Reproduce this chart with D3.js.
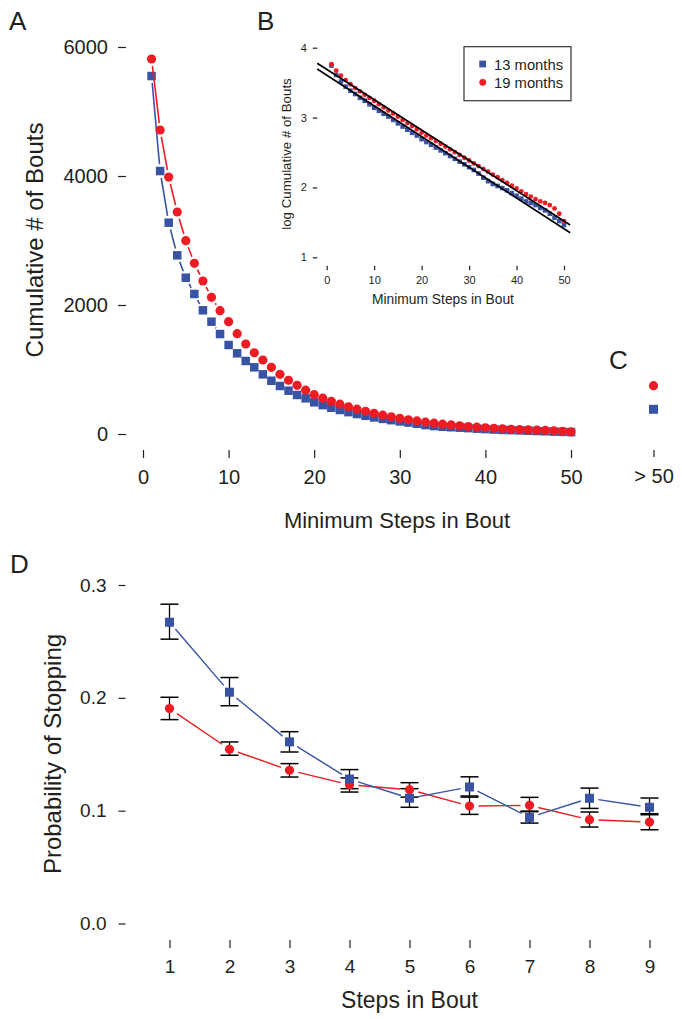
<!DOCTYPE html>
<html>
<head>
<meta charset="utf-8">
<script src="https://cdn.jsdelivr.net/npm/d3@7"></script>
<style>
html,body{margin:0;padding:0;background:#fff;}
svg{display:block;font-family:"Liberation Sans",Arial,Helvetica,sans-serif;}
.axis path.domain{display:none;}
.axis line{stroke:#231f20;stroke-width:1.2;}
.axis text{fill:#231f20;}
</style>
</head>
<body>
<script>
// ---------- DATA ----------
// Panels A/B: cumulative number of bouts with at least N steps (N = 1..50)
const minSteps = d3.range(1, 51);
const bouts13 = [5550,4077,3276,2770,2423,2171,1918,1741,1550,1380,
                 1251,1132,1034,925,826,744,671,605,553,491,
                 447,407,372,339,309,282,257,234,214,195,
                 178,158,138,123,112,105,98,91,83,76,
                 69,63,60,56,51,47,42,37,33,29];
const bouts19 = [5814,4713,3984,3442,2997,2646,2372,2119,1912,1741,
                 1555,1395,1260,1147,1034,925,833,755,680,609,
                 556,507,462,422,385,351,320,292,266,243,
                 221,202,184,168,153,140,127,116,106,97,
                 88,80,74,68,63,60,56,50,42,33];
// Panel C: bouts longer than 50 steps
const overCategory = ["> 50"];
const over13 = [383];
const over19 = [749];
// Panel B: regression fits on log10 scale (13 months, 19 months)
const fitLabels = ["13 months", "19 months"];
const fitIntercepts = [3.608, 3.690];
const fitSlopes = [-0.0440, -0.0434];
const fitRange = [-2, 51.3];
// Panel D: probability of stopping
const stepsInBout = [1,2,3,4,5,6,7,8,9];
const stop13 = [0.267,0.205,0.161,0.128,0.111,0.121,0.094,0.111,0.103];
const stop13Lo = [0.252,0.193,0.152,0.1195,0.103,0.113,0.089,0.102,0.0964];
const stop13Hi = [0.283,0.218,0.170,0.1364,0.1195,0.130,0.0996,0.120,0.1112];
const stop19 = [0.1905,0.1544,0.1358,0.123,0.1186,0.1041,0.1047,0.092,0.0899];
const stop19Lo = [0.1807,0.1491,0.1298,0.1165,0.112,0.0967,0.0991,0.0855,0.0831];
const stop19Hi = [0.2005,0.1609,0.1417,0.129,0.1248,0.112,0.1118,0.0988,0.0973];
// Tick values
const ticksAy = [0,2000,4000,6000];
const ticksAx = [0,10,20,30,40,50];
const ticksBy = [1,2,3,4];
const ticksBx = [0,10,20,30,40,50];
const ticksDy = [0,0.1,0.2,0.3];

// ---------- STYLE ----------
const BLUE = "#3953a4", RED = "#ed1c24", INK = "#231f20";

const svg = d3.select("body").append("svg").attr("width",682).attr("height",1019);
svg.append("rect").attr("width",682).attr("height",1019).attr("fill","#fff");

function typeB(g, pts, color, gap, width){
  for(let i=0;i<pts.length-1;i++){
    const [x1,y1]=pts[i],[x2,y2]=pts[i+1];
    const dx=x2-x1, dy=y2-y1, d=Math.hypot(dx,dy);
    if(d>2*gap+1){
      const ux=dx/d, uy=dy/d;
      g.append("line").attr("x1",x1+ux*gap).attr("y1",y1+uy*gap)
       .attr("x2",x2-ux*gap).attr("y2",y2-uy*gap)
       .attr("stroke",color).attr("stroke-width",width);
    }
  }
}
function squares(g, pts, size, color){
  g.selectAll(null).data(pts).enter().append("rect")
   .attr("x",d=>d[0]-size/2).attr("y",d=>d[1]-size/2)
   .attr("width",size).attr("height",size).attr("fill",color);
}
function circles(g, pts, r, color){
  g.selectAll(null).data(pts).enter().append("circle")
   .attr("cx",d=>d[0]).attr("cy",d=>d[1]).attr("r",r).attr("fill",color);
}
function styleAxis(g, size){
  g.attr("class","axis").selectAll("text").attr("font-size",size).attr("fill",INK)
   .attr("font-family",'"Liberation Sans",Arial,sans-serif');
  g.select(".domain").remove();
}
function panelLetter(t,x,y){
  svg.append("text").attr("x",x).attr("y",y).attr("font-size",26).attr("fill",INK).text(t);
}

// ---------- PANEL A ----------
const xA = d3.scaleLinear().domain([0,50]).range([143,571]);
const yA = d3.scaleLinear().domain([0,6000]).range([434,47]);
const gA = svg.append("g");
gA.append("g").attr("transform","translate(126,0)")
  .call(d3.axisLeft(yA).tickValues(ticksAy).tickSize(8).tickPadding(10).tickFormat(d3.format("d")))
  .call(g=>styleAxis(g,20));
gA.append("g").attr("transform","translate(0,450)")
  .call(d3.axisBottom(xA).tickValues(ticksAx).tickSize(8).tickPadding(12))
  .call(g=>styleAxis(g,20));
const ptsA13 = minSteps.map((s,i)=>[xA(s),yA(bouts13[i])]);
const ptsA19 = minSteps.map((s,i)=>[xA(s),yA(bouts19[i])]);
typeB(gA, ptsA13, BLUE, 7, 1.6);
squares(gA, ptsA13, 8.5, BLUE);
typeB(gA, ptsA19, RED, 7, 1.6);
circles(gA, ptsA19, 4.6, RED);
gA.append("text").attr("x",397).attr("y",528).attr("text-anchor","middle")
  .attr("font-size",22).attr("fill",INK).text("Minimum Steps in Bout");
gA.append("text").attr("transform","translate(43,240) rotate(-90)").attr("text-anchor","middle")
  .attr("font-size",24).attr("fill",INK).text("Cumulative # of Bouts");
panelLetter("A",9,30);

// ---------- PANEL C ----------
const xC = d3.scalePoint().domain(overCategory).range([640,667]).padding(0.5);
const gC = svg.append("g");
gC.append("g").attr("transform","translate(0,450)")
  .call(d3.axisBottom(xC).tickSize(7).tickPadding(12))
  .call(g=>styleAxis(g,20));
squares(gC, overCategory.map((c,i)=>[xC(c),yA(over13[i])]), 9, BLUE);
circles(gC, overCategory.map((c,i)=>[xC(c),yA(over19[i])]), 4.6, RED);
panelLetter("C",609,369);

// ---------- PANEL B ----------
const xB = d3.scaleLinear().domain([0,50]).range([326.7,564]);
const yB = d3.scaleLinear().domain([1,4]).range([257.3,47.7]);
const gB = svg.append("g");
gB.append("g").attr("transform","translate(317.3,0)")
  .call(d3.axisLeft(yB).tickValues(ticksBy).tickSize(4.5).tickPadding(6).tickFormat(d3.format("d")))
  .call(g=>styleAxis(g,11));
gB.append("g").attr("transform","translate(0,265.7)")
  .call(d3.axisBottom(xB).tickValues(ticksBx).tickSize(4.5).tickPadding(6))
  .call(g=>styleAxis(g,11));
gB.selectAll(".axis line").attr("stroke-width",1);
squares(gB, minSteps.map((s,i)=>[xB(s),yB(Math.log10(bouts13[i]))]), 4.6, BLUE);
circles(gB, minSteps.map((s,i)=>[xB(s),yB(Math.log10(bouts19[i]))]), 2.4, RED);
fitIntercepts.forEach((b,k)=>{
  gB.append("line")
    .attr("x1",xB(fitRange[0])).attr("y1",yB(b+fitSlopes[k]*fitRange[0]))
    .attr("x2",xB(fitRange[1])).attr("y2",yB(b+fitSlopes[k]*fitRange[1]))
    .attr("stroke","#000").attr("stroke-width",1.7);
});
gB.append("text").attr("x",443).attr("y",304).attr("text-anchor","middle")
  .attr("font-size",13.8).attr("fill",INK).text("Minimum Steps in Bout");
gB.append("text").attr("transform","translate(291,154) rotate(-90)").attr("text-anchor","middle")
  .attr("font-size",13.3).attr("fill",INK).text("log Cumulative # of Bouts");
// legend
const lg = gB.append("g");
lg.append("rect").attr("x",464).attr("y",46.7).attr("width",107).attr("height",54)
  .attr("fill","#fff").attr("stroke","#333").attr("stroke-width",1.2);
lg.append("rect").attr("x",482.7-3.4).attr("y",64-3.4).attr("width",6.8).attr("height",6.8).attr("fill",BLUE);
lg.append("circle").attr("cx",482.7).attr("cy",82.3).attr("r",3.4).attr("fill",RED);
fitLabels.forEach((t,k)=>{
  lg.append("text").attr("x",494).attr("y",69.5+k*18.4).attr("font-size",14.8).attr("fill",INK).text(t);
});
panelLetter("B",257,30);

// ---------- PANEL D ----------
const xD = d3.scaleLinear().domain([1,9]).range([169.5,649.5]);
const yD = d3.scaleLinear().domain([0,0.3]).range([923.5,585]);
const gD = svg.append("g");
gD.append("g").attr("transform","translate(125.5,0)")
  .call(d3.axisLeft(yD).tickValues(ticksDy).tickSize(7).tickPadding(12).tickFormat(d3.format(".1f")))
  .call(g=>styleAxis(g,19));
gD.append("g").attr("transform","translate(0,940)")
  .call(d3.axisBottom(xD).tickValues(stepsInBout).tickSize(8).tickPadding(12).tickFormat(d3.format("d")))
  .call(g=>styleAxis(g,19));
const ptsD13 = stepsInBout.map((s,i)=>[xD(s),yD(stop13[i])]);
const ptsD19 = stepsInBout.map((s,i)=>[xD(s),yD(stop19[i])]);
typeB(gD, ptsD19, RED, 9, 1.4);
typeB(gD, ptsD13, BLUE, 9, 1.4);
function errBars(lo,hi){
  stepsInBout.forEach((s,i)=>{
    const x=xD(s);
    gD.append("line").attr("x1",x).attr("x2",x).attr("y1",yD(lo[i])).attr("y2",yD(hi[i]))
      .attr("stroke","#000").attr("stroke-width",1.3);
    [lo[i],hi[i]].forEach(v=>{
      gD.append("line").attr("x1",x-9).attr("x2",x+9).attr("y1",yD(v)).attr("y2",yD(v))
        .attr("stroke","#000").attr("stroke-width",1.5);
    });
  });
}
errBars(stop19Lo, stop19Hi);
errBars(stop13Lo, stop13Hi);
circles(gD, ptsD19, 4.6, RED);
squares(gD, ptsD13, 9, BLUE);
gD.append("text").attr("x",409.5).attr("y",1008).attr("text-anchor","middle")
  .attr("font-size",23).attr("fill",INK).text("Steps in Bout");
gD.append("text").attr("transform","translate(61,754) rotate(-90)").attr("text-anchor","middle")
  .attr("font-size",24).attr("fill",INK).text("Probability of Stopping");
panelLetter("D",10,573);
</script>
</body>
</html>
